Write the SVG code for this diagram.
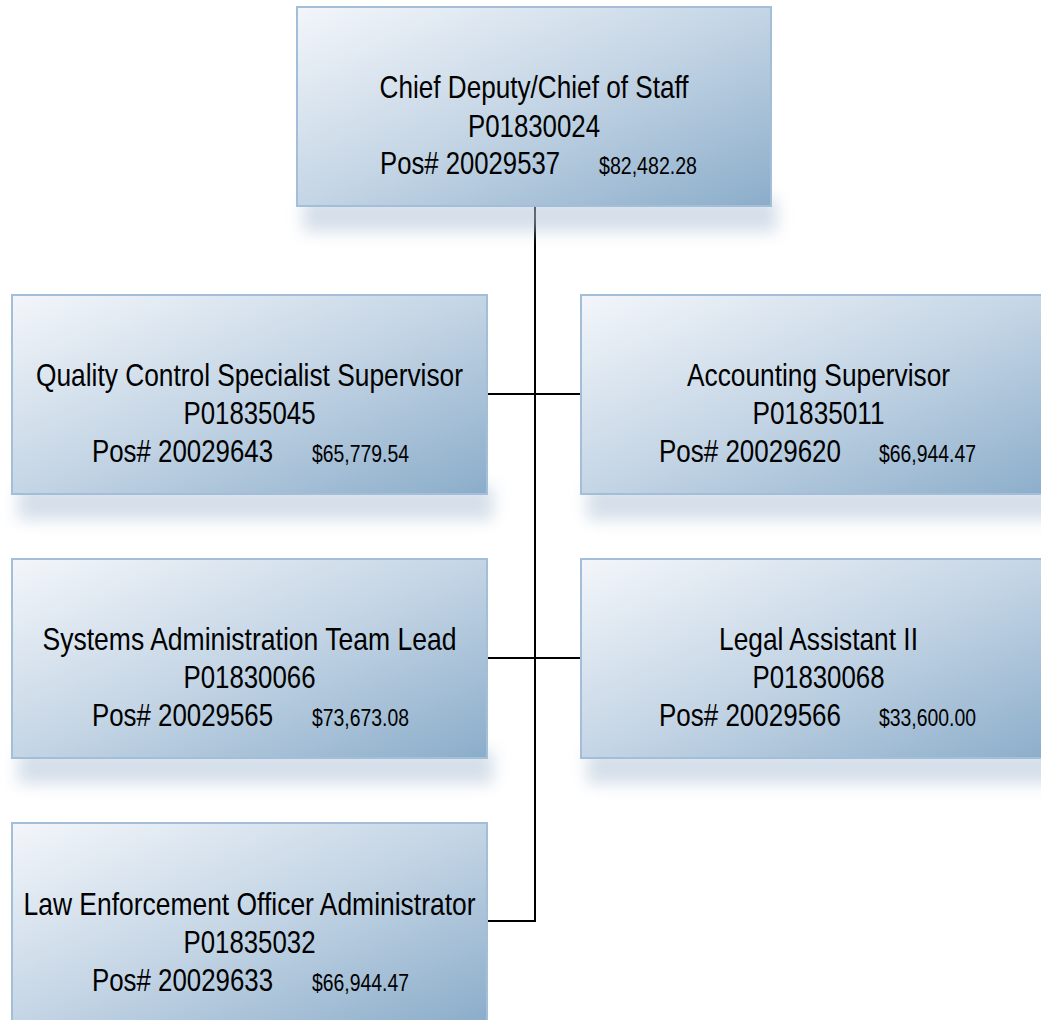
<svg xmlns="http://www.w3.org/2000/svg" width="1041" height="1020" viewBox="0 0 1041 1020">
<style>
.box{fill:url(#g);stroke:#a2bed9;stroke-width:2}
.sh{fill:#b3c5d8;opacity:0.55;filter:url(#blur)}
text{font-family:"Liberation Sans",Arial,sans-serif;fill:#000}
.t{font-size:32px;text-anchor:middle}
.p{font-size:32px}
.m{font-size:23px}
.c{stroke:#000;stroke-width:2;fill:none}
</style>
<defs>
<linearGradient id="g" x1="0" y1="0" x2="1" y2="1">
<stop offset="0" stop-color="#f3f6fa"/>
<stop offset="0.5" stop-color="#c4d5e5"/>
<stop offset="1" stop-color="#8badca"/>
</linearGradient>
<filter id="blur" x="-20%" y="-100%" width="140%" height="300%">
<feGaussianBlur stdDeviation="8"/>
</filter>
</defs>
<rect width="1041" height="1020" fill="#fff"/>
<g id="connectors">
<path class="c" d="M535 206 V921 H487"/>
<path class="c" d="M487 394 H581"/>
<path class="c" d="M487 658 H581"/>
</g>
<g id="n0">
<rect class="sh" x="303" y="198" width="474" height="34"/>
<rect class="box" x="297" y="7" width="474" height="199"/>
<text class="t" x="534" y="98" textLength="309" lengthAdjust="spacingAndGlyphs">Chief Deputy/Chief of Staff</text>
<text class="t" x="534" y="137" textLength="132" lengthAdjust="spacingAndGlyphs">P01830024</text>
<text class="p" x="380" y="174" textLength="180" lengthAdjust="spacingAndGlyphs">Pos# 20029537</text>
<text class="m" x="599" y="174" textLength="98" lengthAdjust="spacingAndGlyphs">$82,482.28</text>
</g>
<g id="n1">
<rect class="sh" x="18" y="486" width="475" height="34"/>
<rect class="box" x="12" y="295" width="475" height="199"/>
<text class="t" x="249.5" y="386" textLength="427" lengthAdjust="spacingAndGlyphs">Quality Control Specialist Supervisor</text>
<text class="t" x="249.5" y="424" textLength="132" lengthAdjust="spacingAndGlyphs">P01835045</text>
<text class="p" x="92" y="462" textLength="181" lengthAdjust="spacingAndGlyphs">Pos# 20029643</text>
<text class="m" x="312" y="462" textLength="97" lengthAdjust="spacingAndGlyphs">$65,779.54</text>
</g>
<g id="n2">
<rect class="sh" x="587" y="486" width="475" height="34"/>
<rect class="box" x="581" y="295" width="475" height="199"/>
<text class="t" x="818.5" y="386" textLength="263" lengthAdjust="spacingAndGlyphs">Accounting Supervisor</text>
<text class="t" x="818.5" y="424" textLength="132" lengthAdjust="spacingAndGlyphs">P01835011</text>
<text class="p" x="659" y="462" textLength="182" lengthAdjust="spacingAndGlyphs">Pos# 20029620</text>
<text class="m" x="879" y="462" textLength="97" lengthAdjust="spacingAndGlyphs">$66,944.47</text>
</g>
<g id="n3">
<rect class="sh" x="18" y="750" width="475" height="34"/>
<rect class="box" x="12" y="559" width="475" height="199"/>
<text class="t" x="249.5" y="650" textLength="414" lengthAdjust="spacingAndGlyphs">Systems Administration Team Lead</text>
<text class="t" x="249.5" y="688" textLength="132" lengthAdjust="spacingAndGlyphs">P01830066</text>
<text class="p" x="92" y="726" textLength="181" lengthAdjust="spacingAndGlyphs">Pos# 20029565</text>
<text class="m" x="312" y="726" textLength="97" lengthAdjust="spacingAndGlyphs">$73,673.08</text>
</g>
<g id="n4">
<rect class="sh" x="587" y="750" width="475" height="34"/>
<rect class="box" x="581" y="559" width="475" height="199"/>
<text class="t" x="818.5" y="650" textLength="199" lengthAdjust="spacingAndGlyphs">Legal Assistant II</text>
<text class="t" x="818.5" y="688" textLength="132" lengthAdjust="spacingAndGlyphs">P01830068</text>
<text class="p" x="659" y="726" textLength="182" lengthAdjust="spacingAndGlyphs">Pos# 20029566</text>
<text class="m" x="879" y="726" textLength="97" lengthAdjust="spacingAndGlyphs">$33,600.00</text>
</g>
<g id="n5">
<rect class="box" x="12" y="823" width="475" height="199"/>
<text class="t" x="249.5" y="915" textLength="452" lengthAdjust="spacingAndGlyphs">Law Enforcement Officer Administrator</text>
<text class="t" x="249.5" y="953" textLength="132" lengthAdjust="spacingAndGlyphs">P01835032</text>
<text class="p" x="92" y="991" textLength="181" lengthAdjust="spacingAndGlyphs">Pos# 20029633</text>
<text class="m" x="312" y="991" textLength="97" lengthAdjust="spacingAndGlyphs">$66,944.47</text>
</g>
</svg>
